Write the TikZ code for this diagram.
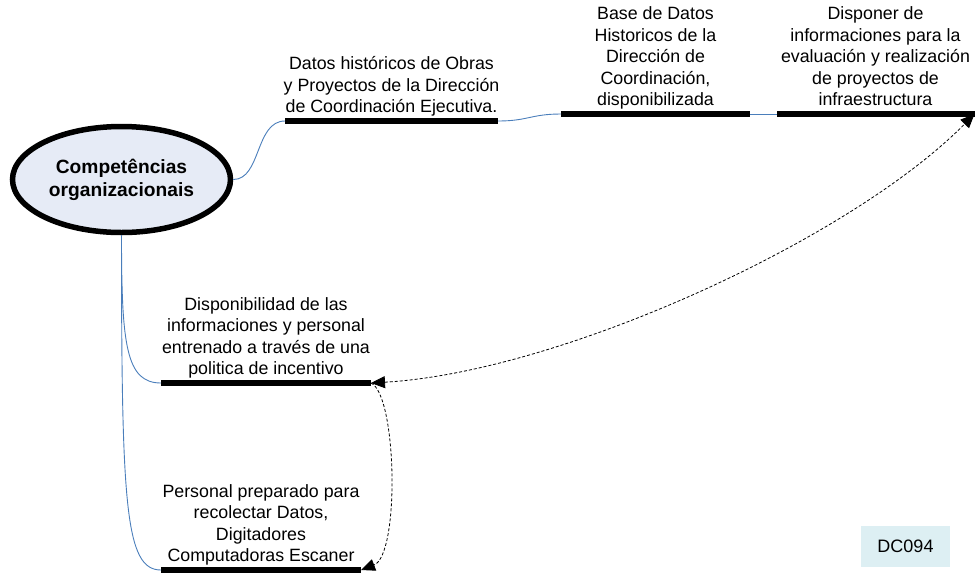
\documentclass[tikz,border=0pt]{standalone}
\usepackage{fontspec}
\setmainfont{Liberation Sans}
\usetikzlibrary{shapes,arrows.meta,calc,positioning}
\definecolor{linkblue}{RGB}{74,126,187}
\definecolor{ovalfill}{RGB}{230,235,246}
\definecolor{tagfill}{RGB}{221,239,243}

\begin{document}
\begin{tikzpicture}[x=1pt,y=-1pt,
bar/.style={fill=black,rectangle,minimum height=5.5pt,inner sep=0pt,outer sep=0pt},
lbl/.style={align=center,inner sep=0pt,font=\fontsize{17.8}{21.5}\selectfont,execute at end node=\strut},
link/.style={draw=linkblue,line width=0.9pt},
dlink/.style={draw=black,line width=0.8pt,dash pattern=on 3pt off 2pt},
>={Triangle[length=14pt,width=12pt]}]

        \useasboundingbox (0,0) rectangle (976,574);

        \node [ellipse,draw,line width=5.5pt,fill=ovalfill,minimum width=218pt,minimum height=106pt,inner sep=0pt,align=center,font=\bfseries\fontsize{19.2}{23}\selectfont] (C) at (121.5,179.5) {Competências\\organizacionais};

        \node [bar,minimum width=213pt] (B1) at (391.5,121) {};
        \node [bar,minimum width=189pt] (B2) at (655.5,114) {};
        \node [bar,minimum width=198pt] (B3) at (875.5,114) {};
        \node [bar,minimum width=210pt] (B4) at (266,383) {};
        \node [bar,minimum width=200pt] (B5) at (261,570) {};

        \node [lbl, above=-1pt of B1] (T1) {Datos históricos de Obras\\y Proyectos de la Dirección\\de Coordinación Ejecutiva.};
        \node [lbl, above=-1pt of B2] (T2) {Base de Datos\\Historicos de la\\Dirección de\\Coordinación,\\disponibilizada};
        \node [lbl, above=-1pt of B3] (T3) {Disponer de\\informaciones para la\\evaluación y realización\\de proyectos de\\infraestructura};
        \node [lbl, above=-1pt of B4] (T4) {Disponibilidad de las\\informaciones y personal\\entrenado a través de una\\politica de incentivo};
        \node [lbl, above=-1pt of B5] (T5) {Personal preparado para\\recolectar Datos,\\Digitadores\\Computadoras Escaner};

        \node [fill=tagfill,minimum width=89pt,minimum height=41pt,font=\fontsize{18}{21}\selectfont] (tag) at (905.5,546.5) {DC094};

        \draw [link] (C.east) .. controls +(28,0) and +(-30,0) .. (B1.west);
        \draw [link] (B1.east) .. controls +(30,0) and +(-30,0) .. (B2.west);
        \draw [link] (B2.east) -- (B3.west);
        \draw [link] (C.south) .. controls +(0,110) and +(-35,0) .. (B4.west);
        \draw [link] (C.south) .. controls +(0,270) and +(-36,0) .. (B5.west);

        \draw [dlink,<->] (B4.east) .. controls (560,372) and (850,240) .. (B3.east);
        \draw [dlink,->] (B4.east) .. controls (397,395) and (400,555) .. (B5.east);
    \end{tikzpicture}
\end{document}
